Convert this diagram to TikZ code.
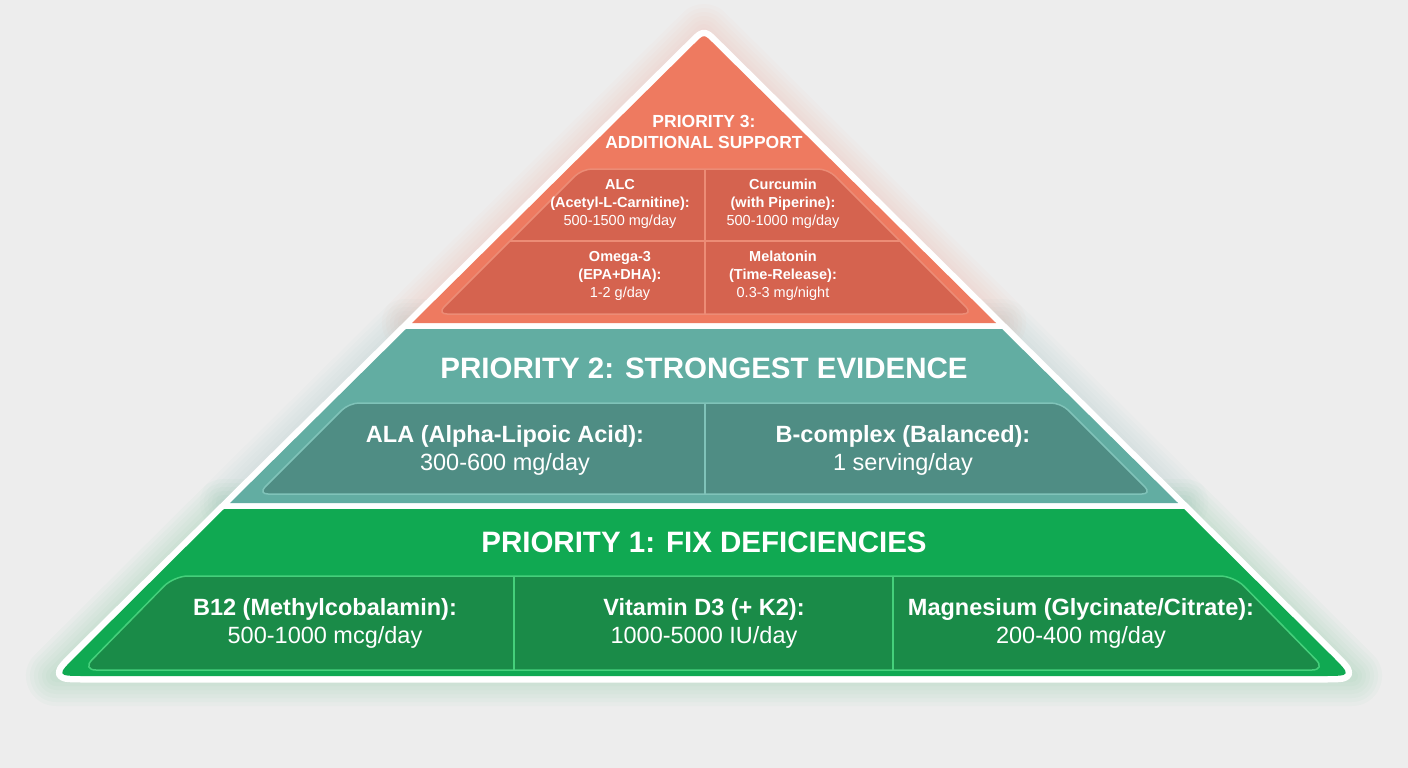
\documentclass[tikz,border=0pt]{standalone}
\usepackage{fontspec}
\setmainfont{Liberation Sans}
\usetikzlibrary{positioning}

\definecolor{bgGrey}{HTML}{EDEDED}
\definecolor{coralTier}{HTML}{EE7A60}
\definecolor{coralPanel}{HTML}{D5634F}
\definecolor{coralLine}{HTML}{EC8C76}
\definecolor{tealTier}{HTML}{62ADA2}
\definecolor{tealPanel}{HTML}{4F8D84}
\definecolor{tealLine}{HTML}{80C3B9}
\definecolor{greenTier}{HTML}{10A952}
\definecolor{greenPanel}{HTML}{1A8B48}
\definecolor{greenLine}{HTML}{45D07B}

\tikzset{
  glow/.style={line join=round, line cap=round, opacity=0.022},
  panel/.style={rounded corners=10pt, line width=1.5pt},
  divider/.style={line width=1.5pt},
  bigtitle/.style={text=white, inner sep=0pt,
                   font=\bfseries\fontsize{29.5}{34}\selectfont},
  smalltitle/.style={text=white, inner sep=0pt, align=center,
                     font=\bfseries\fontsize{17.5}{21}\selectfont},
  bigcell/.style={text=white, inner sep=0pt, align=center,
                  font=\fontsize{23.5}{28}\selectfont},
  smallcell/.style={text=white, inner sep=0pt, align=center,
                    font=\fontsize{14.5}{18}\selectfont},
}

\begin{document}
\begin{tikzpicture}[x=1pt, y=-1pt]

  \useasboundingbox (0,0) rectangle (1408,768);
  \fill[bgGrey] (0,0) rectangle (1408,768);

  % =====================================================
  % GLOW
  % =====================================================

  \foreach \w in {12,20,...,60} {
    \draw[glow, coralTier, line width=\w pt]
      (412,323) -- (704,34) -- (996,323) -- cycle;
    \draw[glow, tealTier, line width=\w pt]
      (406,329) -- (1002,329) -- (1178,503) -- (230,503) -- cycle;
    \draw[glow, greenTier, line width=\w pt]
      (224,509) -- (1184,509) -- (1352,676) -- (56,676) -- cycle;
  }

  % =====================================================
  % PYRAMID
  % =====================================================

  \filldraw[white, line width=13pt, line join=round]
    (77,655) -- (695,43) .. controls (704,34) .. (713,43)
    -- (1331,655) .. controls (1352,676) .. (1322,676)
    -- (86,676) .. controls (56,676) .. (77,655) -- cycle;

  \fill[coralTier]
    (412,323) -- (695,43) .. controls (704,34) .. (713,43)
    -- (996,323) -- cycle;

  \fill[tealTier]
    (406,329) -- (1002,329) -- (1178,503) -- (230,503) -- cycle;

  \fill[greenTier]
    (224,509) -- (1184,509)
    -- (1331,655) .. controls (1352,676) .. (1322,676)
    -- (86,676) .. controls (56,676) .. (77,655) -- cycle;


  % =====================================================
  % PRIORITY 3
  % =====================================================

  \filldraw[panel, fill=coralPanel, draw=coralLine]
    (437,314) -- (582,169) -- (828,169) -- (973,314) -- cycle;

  \draw[divider, coralLine] (705,169) -- (705,314);
  \draw[divider, coralLine] (510,241) -- (900,241);

  \node[smalltitle] (p3title) at (704,132)
    {PRIORITY 3:\\ADDITIONAL SUPPORT};

  \node[smallcell] (alc) at (620,204)
    {\bfseries ALC\\\bfseries(Acetyl-L-Carnitine):\\500-1500 mg/day};

  \node[smallcell] (curcumin) at (783,204)
    {\bfseries Curcumin\\\bfseries(with Piperine):\\500-1000 mg/day};

  \node[smallcell] (omega) at (620,276)
    {\bfseries Omega-3\\\bfseries(EPA+DHA):\\1-2 g/day};

  \node[smallcell] (melatonin) at (783,276)
    {\bfseries Melatonin\\\bfseries(Time-Release):\\0.3-3 mg/night};


  % =====================================================
  % PRIORITY 2
  % =====================================================

  \filldraw[panel, fill=tealPanel, draw=tealLine]
    (258,494) -- (349,403) -- (1061,403) -- (1152,494) -- cycle;

  \draw[divider, tealLine] (705,403) -- (705,494);

  \node[bigtitle] (p2title) at (704,368)
    {PRIORITY 2: STRONGEST EVIDENCE};

  \node[bigcell] (ala) at (505,450)
    {\bfseries ALA (Alpha-Lipoic Acid):\\300-600 mg/day};

  \node[bigcell] (bcomplex) at (903,450)
    {\bfseries B-complex (Balanced):\\1 serving/day};


  % =====================================================
  % PRIORITY 1
  % =====================================================

  \filldraw[panel, fill=greenPanel, draw=greenLine, rounded corners=14pt]
    (82,670) -- (174,576) -- (1234,576) -- (1326,670) -- cycle;

  \draw[divider, greenLine] (514,576) -- (514,670);
  \draw[divider, greenLine] (893,576) -- (893,670);

  \node[bigtitle] (p1title) at (704,542)
    {PRIORITY 1: FIX DEFICIENCIES};

  \node[bigcell] (btwelve) at (325,623)
    {\bfseries B12 (Methylcobalamin):\\500-1000 mcg/day};

  \node[bigcell] (vitd) at (704,623)
    {\bfseries Vitamin D3 (+ K2):\\1000-5000 IU/day};

  \node[bigcell] (magnesium) at (1081,623)
    {\bfseries Magnesium (Glycinate/Citrate):\\200-400 mg/day};

\end{tikzpicture}
\end{document}
